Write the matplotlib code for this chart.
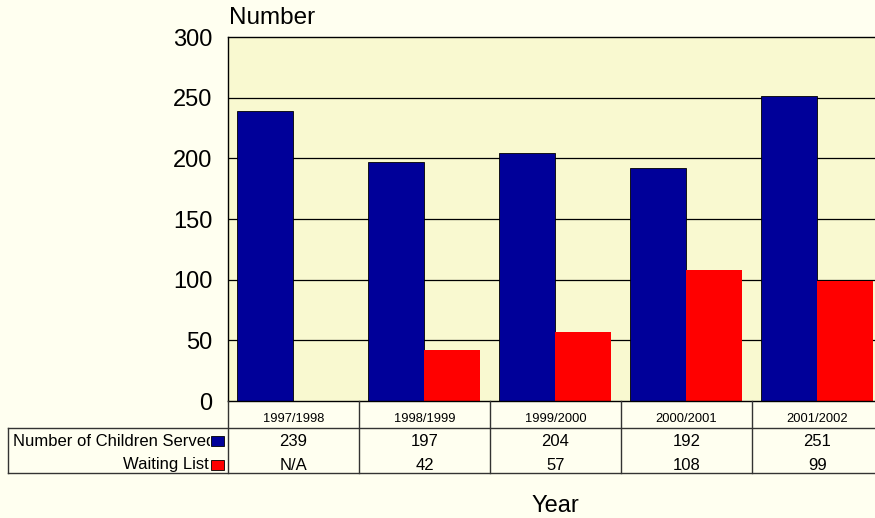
import numpy as np
import matplotlib.pyplot as plt
from matplotlib.transforms import blended_transform_factory
from matplotlib.patches import Rectangle

years = ["1997/1998", "1998/1999", "1999/2000", "2000/2001", "2001/2002"]
served = [239, 197, 204, 192, 251]
waiting = [np.nan, 42, 57, 108, 99]
waiting_labels = ["N/A", "42", "57", "108", "99"]
series_names = ["Number of Children Served", "Waiting List"]
series_colors = ["#000099", "#FF0000"]
yticks = [0, 50, 100, 150, 200, 250, 300]

W, H = 875, 518
BG = "#FFFFF0"
plt.rcParams["font.family"] = ["Liberation Sans", "DejaVu Sans"]
fig = plt.figure(figsize=(W / 100, H / 100), dpi=100)
fig.patch.set_facecolor(BG)

def fy(py):
    return 1 - py / H

def fx(px):
    return px / W

# plot area extends slightly past the right edge of the canvas
ax_left, ax_right, ax_top, ax_bot = 228, 883, 37, 401
ax = fig.add_axes([fx(ax_left), fy(ax_bot), (ax_right - ax_left) / W, (ax_bot - ax_top) / H])
ax.set_facecolor("#F9F9D0")
ax.set_xlim(0, len(years))
ax.set_ylim(0, 300)
ax.set_yticks(yticks)
ax.set_yticklabels([str(t) for t in yticks], fontsize=17)
ax.tick_params(axis="y", length=0, pad=11)
ax.set_xticks([])
for y in yticks[1:-1]:
    ax.axhline(y, color="black", lw=0.9, zorder=1)
for s in ax.spines.values():
    s.set_color("black")
    s.set_linewidth(1.0)
ax.spines["right"].set_visible(False)

x = np.arange(len(years))
bw = 0.427
ax.bar(x + 0.069, served, width=bw, align="edge", color=series_colors[0],
       edgecolor="black", linewidth=0.6, zorder=2)
ax.bar(x + 0.069 + bw, waiting, width=bw, align="edge", color=series_colors[1],
       edgecolor="black", linewidth=0.0, zorder=2)

fig.text(fx(229), fy(18), "Number", fontsize=17.5, ha="left", va="center")
fig.text(fx(555), fy(506), "Year", fontsize=17, ha="center", va="center")

# data table under the plot
tr = blended_transform_factory(ax.transData, fig.transFigure)
line_kw = dict(color="#333333", lw=1.0, clip_on=False, zorder=5)
y_top, y_hdr, y_bot = fy(401), fy(428), fy(473)
for i in range(len(years) + 1):
    fig.add_artist(plt.Line2D([i, i], [y_top, y_bot], transform=tr, **line_kw))
fig.add_artist(plt.Line2D([fx(8), 1.0], [y_hdr, y_hdr], transform=fig.transFigure, **line_kw))
fig.add_artist(plt.Line2D([fx(8), 1.0], [y_bot, y_bot], transform=fig.transFigure, **line_kw))
fig.add_artist(plt.Line2D([fx(8), fx(8)], [y_hdr, y_bot], transform=fig.transFigure, **line_kw))

for i, yr in enumerate(years):
    fig.text(i + 0.5, fy(419), yr, transform=tr, fontsize=9.3, ha="center", va="center")
    fig.text(i + 0.5, fy(441), str(served[i]), transform=tr, fontsize=12, ha="center", va="center")
    fig.text(i + 0.5, fy(465), waiting_labels[i], transform=tr, fontsize=12, ha="center", va="center")

# row headers with legend keys; long header runs under its key
fig.text(fx(13), fy(441), series_names[0], fontsize=12, ha="left", va="center", zorder=1)
fig.text(fx(209), fy(465), series_names[1], fontsize=12, ha="right", va="center", zorder=1)
fig.patches.append(Rectangle((fx(210), fy(450)), 17 / W, 20 / H, transform=fig.transFigure,
                             facecolor=BG, edgecolor="none", zorder=2))
for col, ry in zip(series_colors, [441, 465]):
    fig.patches.append(Rectangle((fx(211), fy(ry + 5)), 13 / W, 10 / H,
                                 transform=fig.transFigure, facecolor=col,
                                 edgecolor="black", lw=0.6, zorder=3))

fig.savefig("out.png", dpi=100, facecolor=fig.get_facecolor())
